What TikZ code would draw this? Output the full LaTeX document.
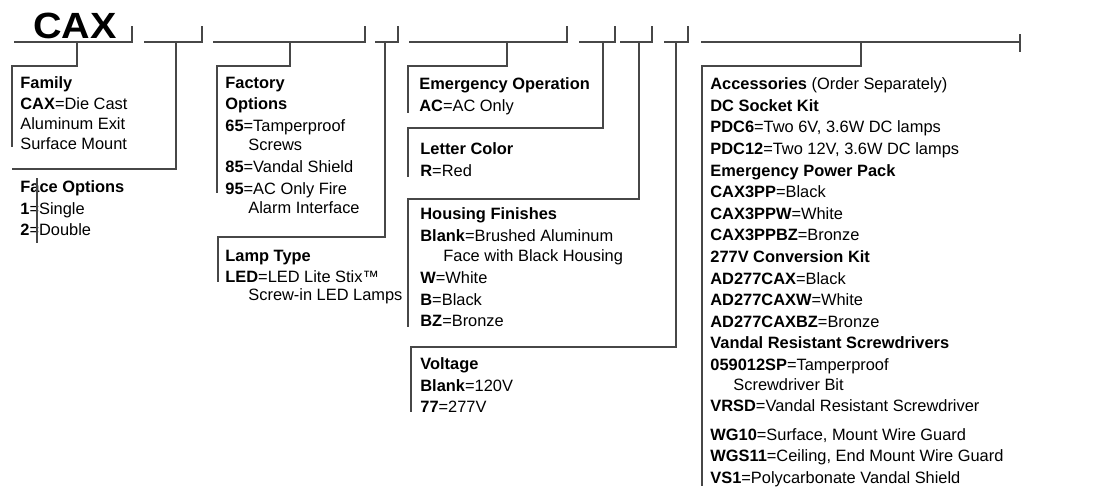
\documentclass[tikz,border=0pt]{standalone}
\usepackage{fontspec}
\setmainfont{Liberation Sans}
\usepackage{tikz}
\usetikzlibrary{positioning}

\newcommand{\contind}{\hspace*{11.5pt}}

\tikzset{
    seg/.style={line width=0.55pt, black!72},
    lead/.style={line width=0.55pt, black!72},
    blk/.style={anchor=north west, inner sep=0pt, align=left,
        font=\fontsize{8.2}{10.8}\selectfont},
}

\begin{document}
\begin{tikzpicture}[x=0.5pt, y=-0.5pt]
    \useasboundingbox (0,0) rectangle (1098,488);

    % 品番
    \node[anchor=base west, inner sep=0pt, font=\fontsize{19}{19}\selectfont\bfseries] (cax) at (33,38) {\scalebox{1.04}[0.96]{CAX}};

    % 記入欄
    \draw[seg] (14,42) -- (132,42) -- (132,26);
    \draw[seg] (144,42) -- (202,42) -- (202,26);
    \draw[seg] (213,42) -- (365,42) -- (365,26);
    \draw[seg] (375,42) -- (398,42) -- (398,26);
    \draw[seg] (409,42) -- (567,42) -- (567,26);
    \draw[seg] (579,42) -- (615,42) -- (615,26);
    \draw[seg] (620,42) -- (652,42) -- (652,26);
    \draw[seg] (664,42) -- (688,42) -- (688,26);
    \draw[seg] (701,42) -- (1020,42);
    \draw[seg] (1020,34) -- (1020,52);

    % 引き出し点
    \coordinate (dFam) at (77,42);
    \coordinate (dFace) at (176,42);
    \coordinate (dFopt) at (290,42);
    \coordinate (dLamp) at (385,42);
    \coordinate (dEmg) at (507,42);
    \coordinate (dLet) at (603,42);
    \coordinate (dHou) at (639,42);
    \coordinate (dVolt) at (676,42);
    \coordinate (dAcc) at (861,42);

    % 枠の角と端
    \coordinate (cFam) at (12,66);    \coordinate (eFam) at (12,147);
    \coordinate (cFace) at (12,169);
    \coordinate (tFace) at (37,178);  \coordinate (eFace) at (37,243);
    \coordinate (cFopt) at (217,66);  \coordinate (eFopt) at (217,193);
    \coordinate (cLamp) at (218,237); \coordinate (eLamp) at (218,282);
    \coordinate (cEmg) at (408,66);   \coordinate (eEmg) at (408,113);
    \coordinate (cLet) at (408,128);  \coordinate (eLet) at (408,177);
    \coordinate (cHou) at (408,199);  \coordinate (eHou) at (408,327);
    \coordinate (cVolt) at (411,347); \coordinate (eVolt) at (411,412);
    \coordinate (cAcc) at (702,66);   \coordinate (eAcc) at (702,486);

    % 説明
    \node[blk] (fam) at (20,76.5) {\textbf{Family}\\[-0.6pt]\textbf{CAX}=Die Cast\\[-0.6pt]Aluminum Exit\\[-0.6pt]Surface Mount};
    \node[blk] (face) at (20,180.5) {\textbf{Face Options}\\\textbf{1}=Single\\\textbf{2}=Double};
    \node[blk] (fopt) at (225,76.5) {\textbf{Factory}\\\textbf{Options}\\\textbf{65}=Tamperproof\\[-1pt]\contind Screws\\\textbf{85}=Vandal Shield\\\textbf{95}=AC Only Fire\\[-1pt]\contind Alarm Interface};
    \node[blk] (lamp) at (225,249.5) {\textbf{Lamp Type}\\\textbf{LED}=LED Lite Stix™\\[-2pt]\contind Screw-in LED Lamps};
    \node[blk] (emg) at (419,77.5) {\textbf{Emergency Operation}\\\textbf{AC}=AC Only};
    \node[blk] (let) at (420,142.5) {\textbf{Letter Color}\\\textbf{R}=Red};
    \node[blk] (hou) at (420,207.5) {\textbf{Housing Finishes}\\\textbf{Blank}=Brushed Aluminum\\[-0.5pt]\contind Face with Black Housing\\\textbf{W}=White\\\textbf{B}=Black\\\textbf{BZ}=Bronze};
    \node[blk] (volt) at (420,357.5) {\textbf{Voltage}\\\textbf{Blank}=120V\\\textbf{77}=277V};
    \node[blk] (acc) at (710,77.5) {\textbf{Accessories} (Order Separately)\\\textbf{DC Socket Kit}\\\textbf{PDC6}=Two 6V, 3.6W DC lamps\\\textbf{PDC12}=Two 12V, 3.6W DC lamps\\\textbf{Emergency Power Pack}\\\textbf{CAX3PP}=Black\\\textbf{CAX3PPW}=White\\\textbf{CAX3PPBZ}=Bronze\\\textbf{277V Conversion Kit}\\\textbf{AD277CAX}=Black\\\textbf{AD277CAXW}=White\\\textbf{AD277CAXBZ}=Bronze\\\textbf{Vandal Resistant Screwdrivers}\\\textbf{059012SP}=Tamperproof\\[-1pt]\contind Screwdriver Bit\\\textbf{VRSD}=Vandal Resistant Screwdriver\\[3.5pt]\textbf{WG10}=Surface, Mount Wire Guard\\\textbf{WGS11}=Ceiling, End Mount Wire Guard\\\textbf{VS1}=Polycarbonate Vandal Shield};

    % 引き出し線
    \draw[lead] (dFam) |- (cFam) -- (eFam);
    \draw[lead] (dFace) |- (cFace);
    \draw[lead] (tFace) -- (eFace);
    \draw[lead] (dFopt) |- (cFopt) -- (eFopt);
    \draw[lead] (dLamp) |- (cLamp) -- (eLamp);
    \draw[lead] (dEmg) |- (cEmg) -- (eEmg);
    \draw[lead] (dLet) |- (cLet) -- (eLet);
    \draw[lead] (dHou) |- (cHou) -- (eHou);
    \draw[lead] (dVolt) |- (cVolt) -- (eVolt);
    \draw[lead] (dAcc) |- (cAcc) -- (eAcc);

\end{tikzpicture}
\end{document}
